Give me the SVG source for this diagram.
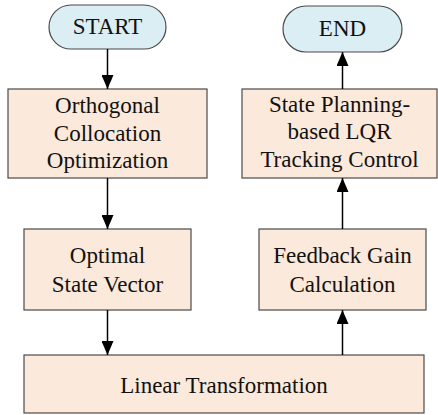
<svg xmlns="http://www.w3.org/2000/svg" width="438" height="415" viewBox="0 0 438 415">
<defs>
<marker id="ah" viewBox="0 0 14 12" refX="14" refY="6" markerWidth="14" markerHeight="12" markerUnits="userSpaceOnUse" orient="auto">
<path d="M0,0 L14,6 L0,12 z" fill="#000"/>
</marker>
<style>
.box{fill:#FBE9DB;stroke:#4a4a4a;stroke-width:1.2}
.term{fill:#DBEEF4;stroke:#4a4a4a;stroke-width:1.2}
.t{font-size:23px;fill:#111;text-anchor:middle}
.c{stroke:#000;stroke-width:1.5;fill:none;marker-end:url(#ah)}
</style>
</defs>
<g font-family="Liberation Serif, DejaVu Serif, Times New Roman, serif">
<g id="start">
<rect class="term" x="49" y="5" width="117" height="44" rx="22"/>
<text class="t" x="107.5" y="34">START</text>
</g>
<g id="end">
<rect class="term" x="283" y="6" width="119" height="46" rx="23"/>
<text class="t" x="342.5" y="36">END</text>
</g>
<g id="oco">
<rect class="box" x="8" y="89" width="199" height="89"/>
<text class="t" x="107.5" y="113">Orthogonal</text>
<text class="t" x="107.5" y="141">Collocation</text>
<text class="t" x="107.5" y="168">Optimization</text>
</g>
<g id="osv">
<rect class="box" x="24" y="229" width="167" height="81"/>
<text class="t" x="107.5" y="263">Optimal</text>
<text class="t" x="107.5" y="292">State Vector</text>
</g>
<g id="lt">
<rect class="box" x="24" y="355" width="400" height="58"/>
<text class="t" x="224" y="393">Linear Transformation</text>
</g>
<g id="fgc">
<rect class="box" x="259" y="229" width="167" height="81"/>
<text class="t" x="342.5" y="263">Feedback Gain</text>
<text class="t" x="342.5" y="292">Calculation</text>
</g>
<g id="spl">
<rect class="box" x="242" y="89" width="195" height="89"/>
<text class="t" x="339.5" y="112">State Planning-</text>
<text class="t" x="339.5" y="139">based LQR</text>
<text class="t" x="339.5" y="167">Tracking Control</text>
</g>
</g>
<g id="connectors">
<line class="c" x1="107.5" y1="49" x2="107.5" y2="89"/>
<line class="c" x1="107.5" y1="178" x2="107.5" y2="229"/>
<line class="c" x1="107.5" y1="310" x2="107.5" y2="355"/>
<line class="c" x1="342.5" y1="355" x2="342.5" y2="310"/>
<line class="c" x1="342.5" y1="229" x2="342.5" y2="178"/>
<line class="c" x1="342.5" y1="89" x2="342.5" y2="52"/>
</g>
</svg>
